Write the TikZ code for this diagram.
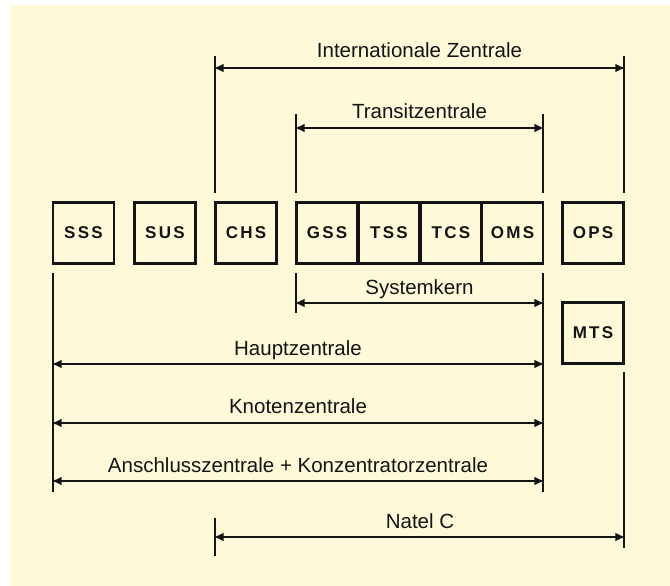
\documentclass[tikz,border=0pt]{standalone}
\usepackage{fontspec}
\setmainfont{Liberation Sans}
\usetikzlibrary{arrows.meta}
\definecolor{cream}{HTML}{FEF9D8}
\definecolor{ink}{HTML}{141414}
\newcommand\spc{\kern2.3pt}
\begin{document}
\begin{tikzpicture}[x=1pt,y=-1pt,
  box/.style={draw=ink,line width=2.6pt,minimum width=61pt,minimum height=61pt,inner sep=0pt,
    font=\fontsize{17}{17}\selectfont\bfseries,text=ink},
  tick/.style={draw=ink,line width=2.6pt},
  span/.style={draw=ink,line width=2pt,{Latex[length=10pt,width=9pt]}-{Latex[length=10pt,width=9pt]},shorten <=-1.3pt,shorten >=-1.3pt},
  lbl/.style={font=\fontsize{20.5}{20.5}\selectfont,text=ink,inner sep=0pt,anchor=base}]
\fill[white] (0,0) rectangle (670,586);
\fill[cream] (10,5) rectangle (670,586);
\useasboundingbox (0,0) rectangle (670,586);
% boxes
\node[box] (sss) at (83.5,233) {S\spc S\spc S};
\node[box] (sus) at (165,233) {S\spc U\spc S};
\node[box] (chs) at (246,233) {C\spc H\spc S};
\node[box] (gss) at (327,233) {G\spc S\spc S};
\node[box] (tss) at (389,233) {T\spc S\spc S};
\node[box] (tcs) at (451,233) {T\spc C\spc S};
\node[box] (oms) at (512.5,233) {O\spc M\spc S};
\node[box] (ops) at (593,233) {O\spc P\spc S};
\node[box] (mts) at (593,333) {M\spc T\spc S};
% coordinates
\coordinate (i1t) at (215,56);  \coordinate (i1b) at (215,193);
\coordinate (i2t) at (624,56);  \coordinate (i2b) at (624,193);
\coordinate (i1) at (215,68);   \coordinate (i2) at (624,68);
\coordinate (t1t) at (296,114); \coordinate (t1b) at (296,193);
\coordinate (t2t) at (543,114); \coordinate (t2b) at (543,193);
\coordinate (t1) at (296,128);  \coordinate (t2) at (543,128);
\coordinate (s1t) at (296,273); \coordinate (s1b) at (296,313);
\coordinate (rt) at (543,273);  \coordinate (rb) at (543,492);
\coordinate (lt) at (53,273);   \coordinate (lb) at (53,492);
\coordinate (s1) at (296,303);  \coordinate (s2) at (543,303);
\coordinate (h1) at (53,364);   \coordinate (h2) at (543,364);
\coordinate (k1) at (53,423);   \coordinate (k2) at (543,423);
\coordinate (a1) at (53,481);   \coordinate (a2) at (543,481);
\coordinate (n1t) at (215,518); \coordinate (n1b) at (215,556);
\coordinate (n2t) at (624,372); \coordinate (n2b) at (624,548);
\coordinate (n1) at (215,537);  \coordinate (n2) at (624,537);
% tick lines
\draw[tick] (i1t) -- (i1b);
\draw[tick] (i2t) -- (i2b);
\draw[tick] (t1t) -- (t1b);
\draw[tick] (t2t) -- (t2b);
\draw[tick] (s1t) -- (s1b);
\draw[tick] (rt) -- (rb);
\draw[tick] (lt) -- (lb);
\draw[tick] (n1t) -- (n1b);
\draw[tick] (n2t) -- (n2b);
% spans
\draw[span] (i1) -- (i2);
\draw[span] (t1) -- (t2);
\draw[span] (s1) -- (s2);
\draw[span] (h1) -- (h2);
\draw[span] (k1) -- (k2);
\draw[span] (a1) -- (a2);
\draw[span] (n1) -- (n2);
% labels
\node[lbl] (li) at (419.5,58) {Internationale Zentrale};
\node[lbl] (lt2) at (419.5,118) {Transitzentrale};
\node[lbl] (ls) at (419.5,294) {Systemkern};
\node[lbl] (lh) at (298,355) {Hauptzentrale};
\node[lbl] (lk) at (298,413) {Knotenzentrale};
\node[lbl] (la) at (298,472) {Anschlusszentrale + Konzentratorzentrale};
\node[lbl] (ln) at (420,528) {Natel C};
\end{tikzpicture}
\end{document}
